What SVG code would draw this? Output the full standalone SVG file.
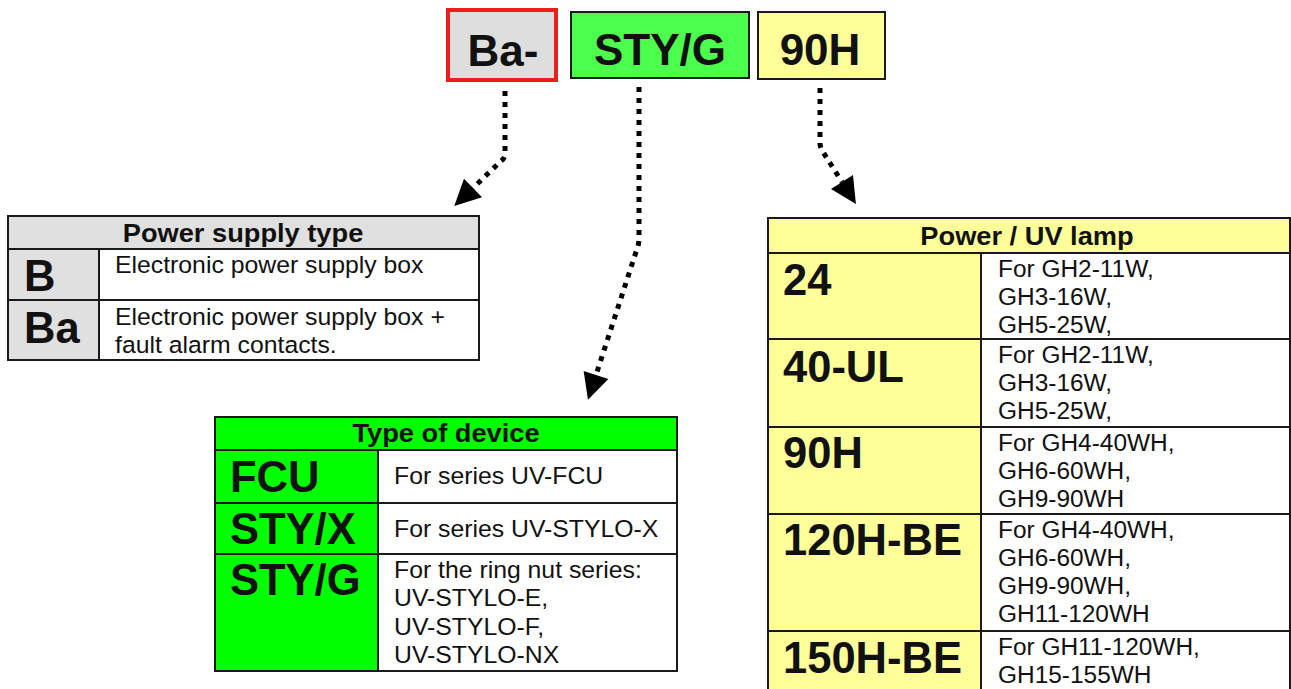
<svg xmlns="http://www.w3.org/2000/svg" width="1291" height="689" viewBox="0 0 1291 689">
<style>
.bd{stroke:#1a1a1a;stroke-width:2}
.h{font-family:"Liberation Sans",Arial,sans-serif;font-weight:bold;font-size:25px;fill:#111;text-anchor:middle}
.d{font-family:"Liberation Sans",Arial,sans-serif;font-size:23.5px;fill:#111}
.b{font-family:"Liberation Sans",Arial,sans-serif;font-weight:bold;font-size:43.5px;fill:#111}
.t{font-family:"Liberation Sans",Arial,sans-serif;font-weight:bold;font-size:44px;fill:#111;text-anchor:middle}
.dot{fill:none;stroke:#000;stroke-width:5;stroke-dasharray:5 6}
</style>
<defs>
<marker id="ah" markerUnits="userSpaceOnUse" markerWidth="27" markerHeight="28" refX="0" refY="13" orient="auto" viewBox="0 0 27 28" overflow="visible">
<path d="M0,0 L26,13 L0,26 Z" fill="#000"/>
</marker>
</defs>
<rect width="1291" height="689" fill="#fff"/>

<g id="code-ba">
<rect x="448" y="10" width="108" height="70" fill="#dedede" stroke="#ee1c1c" stroke-width="4"/>
<text class="t" x="503" y="66">Ba-</text>
</g>
<g id="code-styg">
<rect x="571" y="12" width="178" height="66" fill="#4dff4d" class="bd"/>
<text class="t" x="660" y="65">STY/G</text>
</g>
<g id="code-90h">
<rect x="758" y="12" width="127" height="67" fill="#ffff99" class="bd"/>
<text class="t" x="820" y="65">90H</text>
</g>

<g id="connectors">
<path class="dot" d="M505,91 V154 Q505,158 501,161 L473,188" marker-end="url(#ah)"/>
<path class="dot" d="M639,87 V238 Q639,245 636,252 L596,375" marker-end="url(#ah)"/>
<path class="dot" d="M820,88 V143 Q820,148 823,152 L842,182" marker-end="url(#ah)"/>
</g>

<g id="table-power-supply">
<rect x="8" y="216" width="471" height="33" fill="#e0e0e0" class="bd"/>
<rect x="8" y="249" width="91" height="111" fill="#e0e0e0" class="bd"/>
<rect x="99" y="249" width="380" height="111" fill="#fff" class="bd"/>
<line x1="8" y1="300" x2="479" y2="300" class="bd"/>
<text class="h" transform="translate(243 242) scale(1.09 1)">Power supply type</text>
<text class="b" x="24" y="291">B</text>
<text class="b" x="24" y="343">Ba</text>
<text class="d" transform="translate(115 273) scale(1.055 1)">Electronic power supply box</text>
<text class="d" transform="translate(115 325) scale(1.055 1)"><tspan x="0">Electronic power supply box +</tspan><tspan x="0" dy="28">fault alarm contacts.</tspan></text>
</g>

<g id="table-device">
<rect x="215" y="417" width="462" height="33" fill="#00ff00" class="bd"/>
<rect x="215" y="450" width="163" height="221" fill="#00ff00" class="bd"/>
<rect x="378" y="450" width="299" height="221" fill="#fff" class="bd"/>
<line x1="215" y1="503" x2="677" y2="503" class="bd"/>
<line x1="215" y1="554" x2="677" y2="554" class="bd"/>
<text class="h" transform="translate(446 442) scale(1.09 1)">Type of device</text>
<text class="b" x="230" y="492">FCU</text>
<text class="b" x="230" y="544">STY/X</text>
<text class="b" x="230" y="595">STY/G</text>
<text class="d" transform="translate(394 484) scale(1.055 1)">For series UV-FCU</text>
<text class="d" transform="translate(394 537) scale(1.055 1)">For series UV-STYLO-X</text>
<text class="d" transform="translate(394 578) scale(1.055 1)"><tspan x="0">For the ring nut series:</tspan><tspan x="0" dy="28.5">UV-STYLO-E,</tspan><tspan x="0" dy="28.5">UV-STYLO-F,</tspan><tspan x="0" dy="28.5">UV-STYLO-NX</tspan></text>
</g>

<g id="table-lamp">
<rect x="768" y="218" width="522" height="35" fill="#ffff99" class="bd"/>
<rect x="768" y="253" width="213" height="450" fill="#ffff99" class="bd"/>
<rect x="981" y="253" width="309" height="450" fill="#fff" class="bd"/>
<line x1="768" y1="339" x2="1290" y2="339" class="bd"/>
<line x1="768" y1="427" x2="1290" y2="427" class="bd"/>
<line x1="768" y1="514" x2="1290" y2="514" class="bd"/>
<line x1="768" y1="631" x2="1290" y2="631" class="bd"/>
<text class="h" transform="translate(1027 245) scale(1.09 1)">Power / UV lamp</text>
<text class="b" x="783" y="295">24</text>
<text class="b" x="783" y="382">40-UL</text>
<text class="b" x="783" y="468">90H</text>
<text class="b" x="783" y="555">120H-BE</text>
<text class="b" x="783" y="673">150H-BE</text>
<text class="d" transform="translate(998 277) scale(1.04 1)"><tspan x="0">For GH2-11W,</tspan><tspan x="0" dy="28">GH3-16W,</tspan><tspan x="0" dy="28">GH5-25W,</tspan></text>
<text class="d" transform="translate(998 363) scale(1.04 1)"><tspan x="0">For GH2-11W,</tspan><tspan x="0" dy="28">GH3-16W,</tspan><tspan x="0" dy="28">GH5-25W,</tspan></text>
<text class="d" transform="translate(998 451) scale(1.04 1)"><tspan x="0">For GH4-40WH,</tspan><tspan x="0" dy="28">GH6-60WH,</tspan><tspan x="0" dy="28">GH9-90WH</tspan></text>
<text class="d" transform="translate(998 538) scale(1.04 1)"><tspan x="0">For GH4-40WH,</tspan><tspan x="0" dy="28">GH6-60WH,</tspan><tspan x="0" dy="28">GH9-90WH,</tspan><tspan x="0" dy="28">GH11-120WH</tspan></text>
<text class="d" transform="translate(998 655) scale(1.04 1)"><tspan x="0">For GH11-120WH,</tspan><tspan x="0" dy="28">GH15-155WH</tspan></text>
</g>
</svg>
